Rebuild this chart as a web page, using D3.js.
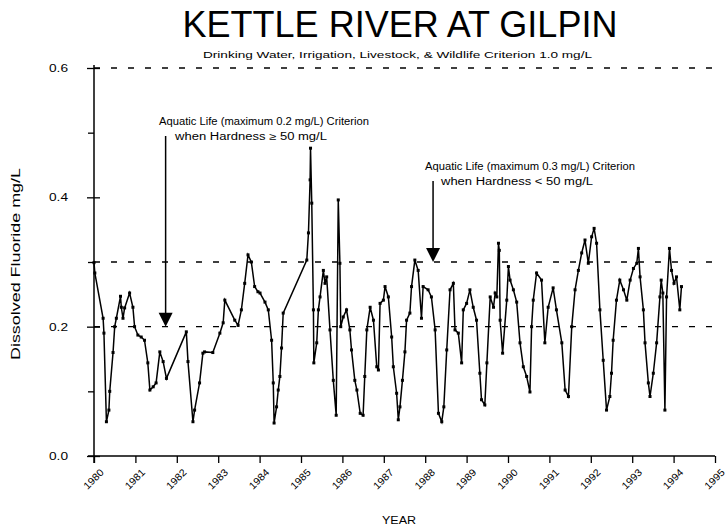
<!DOCTYPE html>
<html>
<head>
<meta charset="utf-8">
<script src="https://cdn.jsdelivr.net/npm/d3@7"></script>
<style>
  html, body { margin: 0; padding: 0; background: #fff; }
  svg { display: block; }
  text { font-family: "Liberation Sans", Arial, sans-serif; fill: #000; }
</style>
</head>
<body>
<svg id="chart" width="728" height="531"></svg>
<script>
// ---- data ----
const years = [
  1980.00,1980.02,1980.22,1980.24,1980.30,1980.36,1980.38,1980.46,1980.50,1980.54,
  1980.64,1980.66,1980.70,1980.74,1980.86,1980.94,1980.98,1981.06,1981.14,1981.22,
  1981.30,1981.35,1981.43,1981.50,1981.59,1981.67,1981.75,1982.23,1982.27,1982.39,
  1982.43,1982.55,1982.63,1982.67,1982.87,1983.04,1983.12,1983.16,1983.40,1983.48,
  1983.56,1983.64,1983.72,1983.80,1983.88,1983.96,1984.01,1984.13,1984.21,1984.29,
  1984.33,1984.35,1984.41,1984.45,1984.49,1984.53,1984.57,1985.14,1985.18,1985.22,
  1985.23,1985.26,1985.30,1985.31,1985.38,1985.42,1985.46,1985.54,1985.58,1985.62,
  1985.70,1985.78,1985.85,1985.90,1985.94,1985.96,1986.02,1986.10,1986.18,1986.22,
  1986.30,1986.35,1986.43,1986.50,1986.54,1986.59,1986.67,1986.75,1986.83,1986.87,
  1986.91,1986.99,1987.03,1987.11,1987.19,1987.23,1987.31,1987.35,1987.39,1987.45,
  1987.51,1987.55,1987.63,1987.67,1987.75,1987.83,1987.91,1987.95,1988.07,1988.15,
  1988.24,1988.32,1988.40,1988.45,1988.52,1988.60,1988.68,1988.72,1988.80,1988.88,
  1988.92,1989.00,1989.08,1989.16,1989.24,1989.32,1989.36,1989.44,1989.49,1989.57,
  1989.65,1989.69,1989.73,1989.77,1989.79,1989.81,1989.87,1989.97,1990.01,1990.05,
  1990.13,1990.21,1990.29,1990.37,1990.45,1990.53,1990.57,1990.61,1990.69,1990.81,
  1990.89,1990.97,1991.09,1991.17,1991.30,1991.38,1991.46,1991.54,1991.62,1991.70,
  1991.78,1991.86,1991.94,1992.02,1992.08,1992.14,1992.22,1992.30,1992.38,1992.46,
  1992.50,1992.54,1992.62,1992.70,1992.79,1992.87,1992.95,1993.03,1993.11,1993.15,
  1993.19,1993.27,1993.31,1993.39,1993.43,1993.51,1993.59,1993.67,1993.70,1993.74,
  1993.79,1993.83,1993.90,1993.95,1994.01,1994.07,1994.15,1994.19
];
const fluoride = [
  0.299,0.283,0.213,0.190,0.053,0.071,0.100,0.160,0.200,0.213,
  0.247,0.230,0.213,0.229,0.252,0.230,0.200,0.187,0.184,0.179,
  0.144,0.102,0.107,0.113,0.161,0.146,0.120,0.192,0.146,0.053,
  0.071,0.113,0.159,0.161,0.160,0.190,0.206,0.241,0.210,0.202,
  0.226,0.267,0.311,0.300,0.262,0.254,0.252,0.238,0.226,0.179,
  0.113,0.051,0.076,0.102,0.123,0.167,0.221,0.303,0.345,0.427,
  0.476,0.391,0.226,0.144,0.175,0.226,0.246,0.287,0.267,0.277,
  0.195,0.117,0.063,0.396,0.298,0.200,0.215,0.226,0.195,0.164,
  0.117,0.102,0.066,0.063,0.123,0.195,0.230,0.210,0.138,0.133,
  0.236,0.241,0.262,0.246,0.184,0.138,0.097,0.056,0.076,0.117,
  0.161,0.210,0.221,0.262,0.303,0.287,0.213,0.262,0.257,0.246,
  0.195,0.066,0.053,0.076,0.164,0.257,0.267,0.195,0.190,0.144,
  0.226,0.236,0.257,0.230,0.210,0.128,0.087,0.079,0.144,0.246,
  0.230,0.252,0.246,0.329,0.318,0.210,0.159,0.241,0.293,0.272,
  0.257,0.238,0.175,0.138,0.123,0.099,0.200,0.241,0.283,0.272,
  0.175,0.230,0.260,0.226,0.175,0.102,0.092,0.200,0.257,0.287,
  0.314,0.334,0.298,0.339,0.352,0.329,0.226,0.148,0.071,0.092,
  0.128,0.179,0.241,0.272,0.257,0.241,0.272,0.290,0.298,0.321,
  0.277,0.226,0.175,0.113,0.092,0.128,0.175,0.246,0.272,0.252,
  0.071,0.246,0.321,0.287,0.267,0.277,0.226,0.262
];
const yearTicks = d3.range(1980, 1996);
const yMajorTicks = [0, 0.2, 0.4, 0.6];
const yMinorTicks = [0.1, 0.3, 0.5];
const criteriaLines = [0.6, 0.3, 0.2];

const titleText = "KETTLE RIVER AT GILPIN";
const subtitleText = "Drinking Water, Irrigation, Livestock, & Wildlife Criterion 1.0 mg/L";
const annotations = [
  { lines: ["Aquatic Life (maximum 0.2 mg/L) Criterion", "when Hardness \u2265 50 mg/L"], year: 1981.73, level: 0.2 },
  { lines: ["Aquatic Life (maximum 0.3 mg/L) Criterion", "when Hardness < 50 mg/L"], year: 1988.19, level: 0.3 }
];

// ---- chart ----
const svg = d3.select("#chart");
const x = d3.scaleLinear().domain([1980, 1995]).range([94, 715]);
const y = d3.scaleLinear().domain([0, 0.6]).range([456, 68]);

// title
svg.append("text").attr("x", 400).attr("y", 37).attr("text-anchor", "middle")
  .attr("font-size", 36).text(titleText);
svg.append("text").attr("x", 203).attr("y", 58).attr("font-size", 9.5)
  .attr("textLength", 389).attr("lengthAdjust", "spacingAndGlyphs").text(subtitleText);

// criteria dashed lines
svg.append("g").selectAll("line").data(criteriaLines).join("line")
  .attr("x1", x(1980)).attr("x2", 722)
  .attr("y1", d => y(d)).attr("y2", d => y(d))
  .attr("stroke", "#000").attr("stroke-width", 1.3)
  .attr("stroke-dasharray", "6,11");

// axes
const xAxis = svg.append("g").attr("transform", `translate(0,${y(0)})`)
  .call(d3.axisBottom(x).tickValues(yearTicks).tickFormat(d3.format("d")).tickSize(7).tickSizeOuter(0));
xAxis.select(".domain").remove();
xAxis.selectAll(".tick line").attr("stroke-width", 1.3);
xAxis.selectAll(".tick text")
  .attr("font-size", 10).attr("text-anchor", "end").attr("fill", "#000")
  .attr("textLength", 24).attr("lengthAdjust", "spacingAndGlyphs")
  .attr("transform", "translate(5,12) rotate(-45)")
  .attr("x", 0).attr("y", 0).attr("dy", "0.7em");

const yAxis = svg.append("g").attr("transform", `translate(${x(1980)},0)`)
  .call(d3.axisLeft(y).tickValues(yMajorTicks).tickFormat(d3.format(".1f")).tickSize(7).tickSizeOuter(0));
yAxis.select(".domain").remove();
yAxis.selectAll(".tick line").attr("x1", 6).attr("stroke-width", 1.3);
yAxis.selectAll(".tick text").attr("font-size", 11).attr("x", -26).attr("fill", "#000")
  .attr("textLength", 19).attr("lengthAdjust", "spacingAndGlyphs");

const yMinor = svg.append("g").attr("transform", `translate(${x(1980)},0)`)
  .call(d3.axisLeft(y).tickValues(yMinorTicks).tickFormat("").tickSize(6).tickSizeOuter(0));
yMinor.select(".domain").remove();
yMinor.selectAll(".tick line").attr("stroke-width", 1.3);

// axis lines
svg.append("line").attr("x1", x(1980)).attr("x2", x(1980)).attr("y1", y(0.6) - 3).attr("y2", y(0) + 7)
  .attr("stroke", "#000").attr("stroke-width", 1.5);
svg.append("line").attr("x1", x(1980) - 6).attr("x2", x(1995)).attr("y1", y(0)).attr("y2", y(0))
  .attr("stroke", "#000").attr("stroke-width", 1.5);

// axis titles
svg.append("text").attr("transform", `translate(20,${(y(0) + y(0.6)) / 2 + 2}) rotate(-90)`)
  .attr("text-anchor", "middle").attr("font-size", 12)
  .attr("textLength", 192).attr("lengthAdjust", "spacingAndGlyphs")
  .text("Dissolved Fluoride mg/L");
svg.append("text").attr("x", 399).attr("y", 524).attr("text-anchor", "middle")
  .attr("font-size", 11).attr("textLength", 34).attr("lengthAdjust", "spacingAndGlyphs").text("YEAR");

// series
const pts = years.map((d, i) => [d, fluoride[i]]);
svg.append("path").datum(pts)
  .attr("fill", "none").attr("stroke", "#000").attr("stroke-width", 1.5)
  .attr("d", d3.line().x(d => x(d[0])).y(d => y(d[1])));
svg.append("g").selectAll("rect").data(pts).join("rect")
  .attr("x", d => x(d[0]) - 1.5).attr("y", d => y(d[1]) - 1.5)
  .attr("width", 3).attr("height", 3).attr("fill", "#000");

// annotations
annotations.forEach((a, k) => {
  const ax = x(a.year), tipY = y(a.level);
  const textLeft = k === 0 ? 159 : 425;
  const textTop = k === 0 ? 125 : 170;
  svg.append("text").attr("x", textLeft).attr("y", textTop).attr("font-size", 10)
    .attr("textLength", 210).attr("lengthAdjust", "spacingAndGlyphs").text(a.lines[0]);
  svg.append("text").attr("x", textLeft + 16).attr("y", textTop + 15).attr("font-size", 10)
    .attr("textLength", 152).attr("lengthAdjust", "spacingAndGlyphs").text(a.lines[1]);
  svg.append("line").attr("x1", ax).attr("x2", ax).attr("y1", textTop + 11).attr("y2", tipY - 12)
    .attr("stroke", "#000").attr("stroke-width", 1.5);
  svg.append("path")
    .attr("d", `M${ax - 7},${tipY - 14} L${ax + 7},${tipY - 14} L${ax},${tipY} Z`)
    .attr("fill", "#000");
});
</script>
</body>
</html>
